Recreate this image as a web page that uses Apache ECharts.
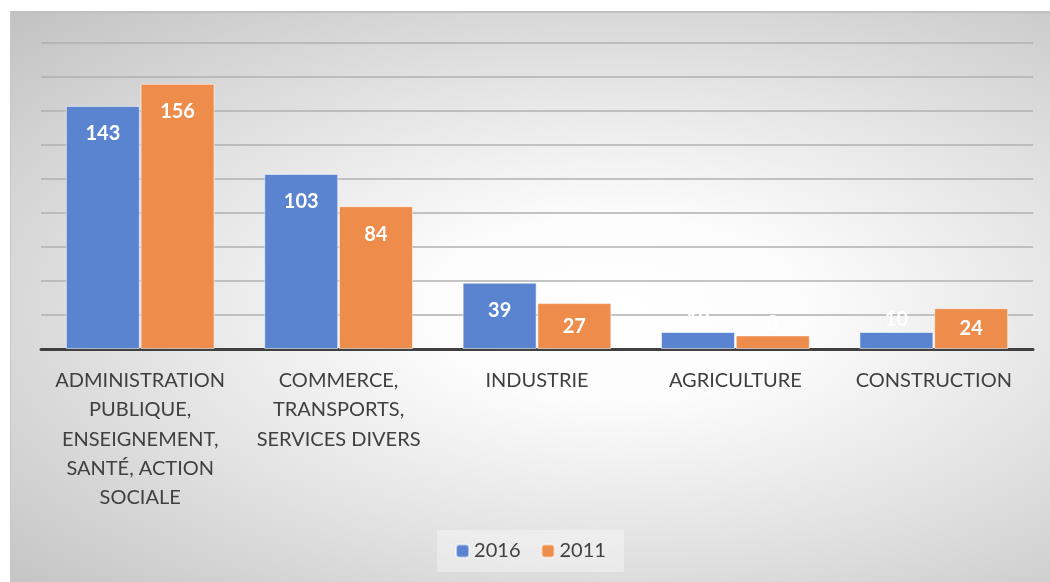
<!DOCTYPE html>
<html>
<head>
<meta charset="utf-8">
<script src="https://cdn.jsdelivr.net/npm/echarts@6/dist/echarts.min.js"></script>
<style>
  html, body { margin: 0; padding: 0; background: #fff; }
  #chart {
    position: absolute; left: 10px; top: 11px;
    width: 1040px; height: 571px;
    border-top: 2px solid #c0c0c0;
    border-left: 1px solid #c8c8c8;
    box-sizing: border-box;
    background: radial-gradient(ellipse farthest-corner at 58% 52%, #ffffff 0%, #fcfcfc 22%, #e4e4e4 55%, #c2c2c2 100%);
  }
</style>
</head>
<body>
<div id="chart"></div>
<script>
// catégories et valeurs
var categories = [
  "ADMINISTRATION\nPUBLIQUE,\nENSEIGNEMENT,\nSANTÉ, ACTION\nSOCIALE",
  "COMMERCE,\nTRANSPORTS,\nSERVICES DIVERS",
  "INDUSTRIE",
  "AGRICULTURE",
  "CONSTRUCTION"
];
var values2016 = [143, 103, 39, 10, 10];
var values2011 = [156, 84, 27, 8, 24];

// position du label selon la hauteur de la barre
function withLabels(arr) {
  return arr.map(function (v) {
    var pos = v > 30 ? "insideTop" : (v > 15 ? "inside" : "top");
    return { value: v, label: { position: pos, distance: v > 30 ? 18 : 2 } };
  });
}

var myChart = echarts.init(document.getElementById("chart"));
myChart.setOption({
  animation: false,
  color: ["#5a84d0", "#ee8c4b"],
  legend: {
    bottom: 10,
    left: "center",
    itemWidth: 13,
    itemHeight: 13,
    itemGap: 20,
    padding: [11, 18],
    backgroundColor: "rgba(255,255,255,0.35)",
    textStyle: { fontFamily: "Lato", fontSize: 20, color: "#404040" },
    data: ["2016", "2011"]
  },
  grid: { left: 30, width: 992, top: 30, bottom: 233 },
  xAxis: {
    type: "category",
    data: categories,
    axisLine: { lineStyle: { color: "#404040", width: 3 } },
    axisTick: { show: false },
    axisLabel: {
      interval: 0,
      margin: 17,
      fontFamily: "Lato",
      fontSize: 20,
      lineHeight: 29.3,
      color: "#404040",
      align: "center"
    }
  },
  yAxis: {
    type: "value",
    min: 0,
    max: 180,
    interval: 20,
    axisLabel: { show: false },
    axisLine: { show: false },
    axisTick: { show: false },
    splitLine: { lineStyle: { color: "#b0b0b0", width: 1.5 } }
  },
  series: [
    {
      name: "2016",
      type: "bar",
      barWidth: 74,
      barGap: "1%",
      data: withLabels(values2016),
      itemStyle: { borderColor: "rgba(255,255,255,0.55)", borderWidth: 1 },
      label: {
        show: true,
        color: "#ffffff",
        fontFamily: "Lato",
        fontWeight: "bold",
        fontSize: 20
      }
    },
    {
      name: "2011",
      type: "bar",
      barWidth: 74,
      data: withLabels(values2011),
      itemStyle: { borderColor: "rgba(255,255,255,0.55)", borderWidth: 1 },
      label: {
        show: true,
        color: "#ffffff",
        fontFamily: "Lato",
        fontWeight: "bold",
        fontSize: 20
      }
    }
  ]
});
</script>
</body>
</html>
